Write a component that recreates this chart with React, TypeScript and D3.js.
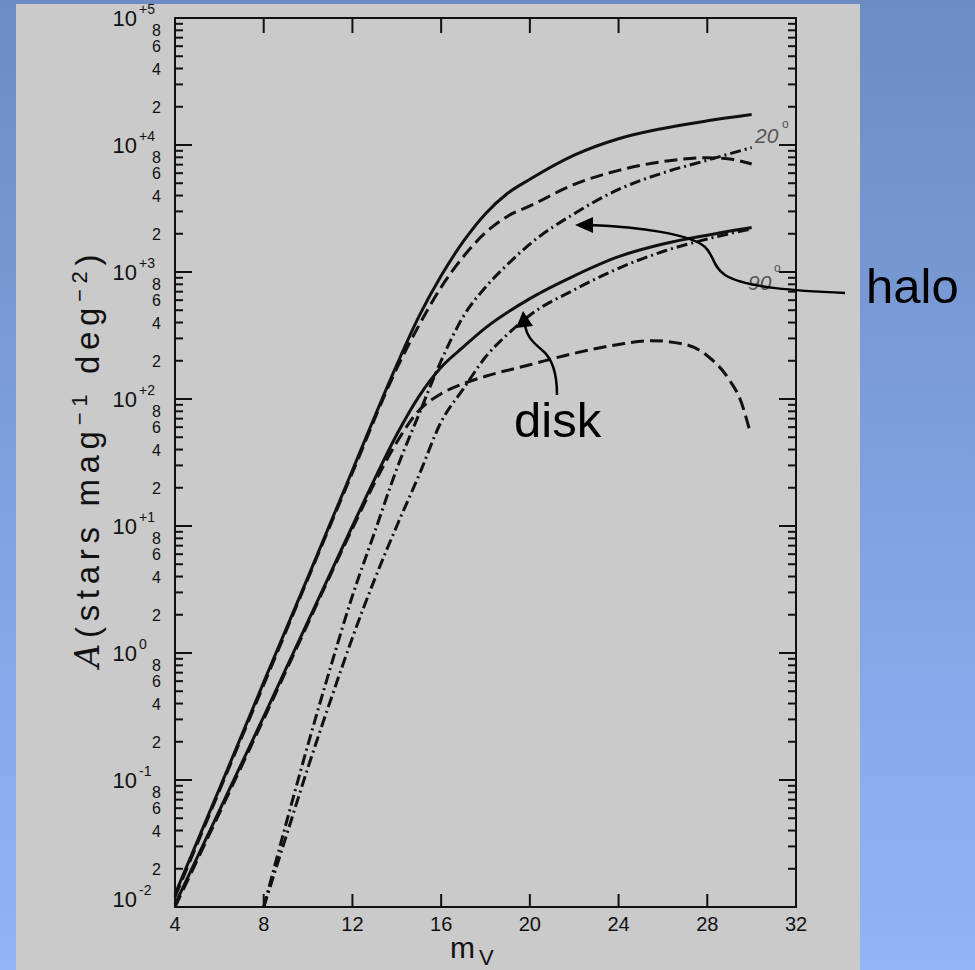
import React from "react";
import * as d3 from "d3";

// star counts A (stars mag^-1 deg^-2) against V magnitude
const total20: [number, number][] = [
  [4, 0.0126], [6, 0.0851], [8, 0.589], [10, 3.98], [12, 27.5], [14, 186],
  [15, 447], [16, 933], [17, 1740], [18, 2880], [19, 4170], [20, 5370],
  [22, 8320], [24, 11200], [26, 13500], [28, 15500], [30, 17400],
];
const disk20: [number, number][] = [
  [4, 0.012], [8, 0.562], [12, 26.3], [14, 174], [15, 380], [16, 759],
  [17, 1320], [18, 2040], [19, 2750], [20, 3310], [22, 4900], [24, 6310],
  [26, 7410], [28, 7940], [29, 7760], [30, 7080],
];
const halo20: [number, number][] = [
  [8, 0.01], [9, 0.0447], [10, 0.191], [11, 0.759], [12, 2.82], [13, 8.91],
  [14, 28.2], [15, 75.9], [16, 200], [17, 447], [18, 759], [19, 1150],
  [20, 1660], [22, 2880], [24, 4470], [26, 6030], [28, 7590], [30, 9550],
];
const total90: [number, number][] = [
  [4, 0.0105], [6, 0.0575], [8, 0.316], [10, 1.78], [12, 10], [13, 23.4],
  [14, 52.5], [15, 105], [16, 178], [17, 257], [18, 363], [20, 617],
  [22, 933], [24, 1320], [26, 1660], [28, 1950], [30, 2240],
];
const disk90: [number, number][] = [
  [4, 0.01], [8, 0.302], [12, 9.55], [13, 21.9], [14, 45.7], [15, 81.3],
  [16, 110], [17, 132], [18, 151], [20, 186], [22, 229], [24, 269],
  [25.5, 288], [27, 269], [28, 219], [29, 141], [29.5, 97.7], [29.9, 57.5],
];
const halo90: [number, number][] = [
  [8, 0.01], [9, 0.0355], [10, 0.126], [11, 0.417], [12, 1.32], [13, 3.8],
  [14, 10], [15, 25.1], [16, 66.1], [17, 120], [18, 214], [19, 324],
  [20, 457], [22, 724], [24, 1070], [26, 1450], [28, 1820], [30, 2190],
];

const magTicks = [4, 8, 12, 16, 20, 24, 28, 32];
const decades = [-2, -1, 0, 1, 2, 3, 4, 5];
const decadeSup = ["-2", "-1", "0", "+1", "+2", "+3", "+4", "+5"];
const minorSteps = [2, 3, 4, 5, 6, 7, 8, 9];
const minorLabels = [2, 4, 6, 8];

const curves = [
  { name: "total20", data: total20, dash: null },
  { name: "disk20", data: disk20, dash: "13 6" },
  { name: "halo20", data: halo20, dash: "11 4 2 4" },
  { name: "total90", data: total90, dash: null },
  { name: "disk90", data: disk90, dash: "13 6" },
  { name: "halo90", data: halo90, dash: "11 4 2 4" },
];

const W = 975;
const H = 970;
const ink = "#111";
const labelFont = "'Liberation Sans', Arial, sans-serif";

export default function App() {
  const x = d3.scaleLinear().domain([4, 32]).range([175, 796]);
  const y = d3.scaleLog().domain([1e-2, 1e5]).range([907, 18]);

  const line = d3
    .line<[number, number]>()
    .x((d) => x(d[0]))
    .y((d) => y(d[1]))
    .curve(d3.curveMonotoneX);

  const minorTicks: number[] = [];
  decades.slice(0, -1).forEach((e) => {
    minorSteps.forEach((s) => minorTicks.push(s * Math.pow(10, e)));
  });
  const mantissa = (v: number) =>
    Math.round(v / Math.pow(10, Math.floor(Math.log10(v) + 1e-9)));

  const [x0, x1] = x.range();
  const [y0, y1] = y.range();

  return (
    <svg
      width={W}
      height={H}
      style={{ position: "absolute", left: 0, top: 0, display: "block" }}
    >
      <defs>
        <linearGradient id="bg" x1="0" y1="0" x2="0" y2="1">
          <stop offset="0%" stopColor="#6d8cc4" />
          <stop offset="100%" stopColor="#90b5f8" />
        </linearGradient>
      </defs>
      <rect x={0} y={0} width={W} height={H} fill="url(#bg)" />
      <rect x={16} y={4} width={844} height={H - 4} fill="#cacaca" />

      {/* frame */}
      <rect
        x={x0}
        y={y1}
        width={x1 - x0}
        height={y0 - y1}
        fill="none"
        stroke={ink}
        strokeWidth={2}
      />

      {/* x ticks, bottom and top */}
      {magTicks.map((m) => (
        <g key={"xt" + m}>
          <line x1={x(m)} x2={x(m)} y1={y0} y2={y0 - 13} stroke={ink} strokeWidth={2} />
          {m > 4 && m < 32 && (
            <line x1={x(m)} x2={x(m)} y1={y1} y2={y1 + 15} stroke={ink} strokeWidth={2} />
          )}
          <text
            x={x(m)}
            y={931}
            textAnchor="middle"
            fontFamily={labelFont}
            fontSize={20}
            fill={ink}
          >
            {m}
          </text>
        </g>
      ))}

      {/* y ticks, left and right */}
      {decades.map((e, i) => {
        const v = Math.pow(10, e);
        const ty = e === -2 ? y(v) - 8 : y(v);
        return (
          <g key={"yd" + e}>
            <line x1={x0} x2={x0 + 17} y1={y(v)} y2={y(v)} stroke={ink} strokeWidth={2} />
            <line x1={x1} x2={x1 - 17} y1={y(v)} y2={y(v)} stroke={ink} strokeWidth={2} />
            <text
              x={137}
              y={ty + 8}
              textAnchor="end"
              fontFamily={labelFont}
              fontSize={22}
              fill={ink}
            >
              10
            </text>
            <text x={139} y={ty - 4} fontFamily={labelFont} fontSize={14} fill={ink}>
              {decadeSup[i]}
            </text>
          </g>
        );
      })}
      {minorTicks.map((v, i) => (
        <g key={"ym" + i}>
          <line x1={x0} x2={x0 + 8} y1={y(v)} y2={y(v)} stroke={ink} strokeWidth={2} />
          <line x1={x1} x2={x1 - 8} y1={y(v)} y2={y(v)} stroke={ink} strokeWidth={2} />
        </g>
      ))}
      {minorTicks
        .filter((v) => minorLabels.includes(mantissa(v)))
        .map((v, i) => (
          <text
            key={"yl" + i}
            x={161}
            y={y(v) + 6}
            textAnchor="end"
            fontFamily={labelFont}
            fontSize={16}
            fill={ink}
          >
            {mantissa(v)}
          </text>
        ))}

      {/* curves */}
      {curves.map((c) => (
        <path
          key={c.name}
          d={line(c.data) || ""}
          fill="none"
          stroke={ink}
          strokeWidth={3}
          strokeDasharray={c.dash || undefined}
        />
      ))}

      {/* latitude labels */}
      <text x={755} y={143} fontFamily={labelFont} fontStyle="italic" fontSize={21} fill="#555">
        20
      </text>
      <text x={782} y={128} fontFamily={labelFont} fontSize={12} fill="#555">
        o
      </text>
      <text x={748} y={290} fontFamily={labelFont} fontStyle="italic" fontSize={21} fill="#555">
        90
      </text>
      <text x={774} y={272} fontFamily={labelFont} fontSize={12} fill="#555">
        o
      </text>

      {/* axis titles */}
      <text
        transform="translate(99,461) rotate(-90)"
        textAnchor="middle"
        fontFamily={labelFont}
        fontSize={33}
        fill={ink}
        textLength={413}
        lengthAdjust="spacing"
      >
        <tspan fontFamily="'DejaVu Serif', serif" fontStyle="italic">A</tspan>
        <tspan>{"(stars   mag"}</tspan>
        <tspan dy={-12} fontSize={22}>{"−1"}</tspan>
        <tspan dy={12}>{" deg"}</tspan>
        <tspan dy={-12} fontSize={22}>{"−2"}</tspan>
        <tspan dy={12}>{")"}</tspan>
      </text>
      <text x={450} y={958} fontFamily={labelFont} fontSize={30} fill={ink}>
        m
        <tspan dx={4} dy={7} fontSize={22}>
          V
        </tspan>
      </text>

      {/* annotations */}
      <path
        d="M845,293 C800,291 745,288 725,275 C712,266 714,255 705,247 C690,234 640,227 590,225"
        fill="none"
        stroke="#000"
        strokeWidth={2.5}
      />
      <path d="M575,225 L593,217 L593,233 Z" fill="#000" />
      <path
        d="M557,395 C557,372 552,358 542,350 C530,340 527,335 525,326"
        fill="none"
        stroke="#000"
        strokeWidth={2.5}
      />
      <path d="M523,311 L516,328 L533,326 Z" fill="#000" />
      <text x={866} y={303} fontFamily={labelFont} fontSize={49} fill="#000">
        halo
      </text>
      <text x={514} y={437} fontFamily={labelFont} fontSize={49} fill="#000">
        disk
      </text>
    </svg>
  );
}
